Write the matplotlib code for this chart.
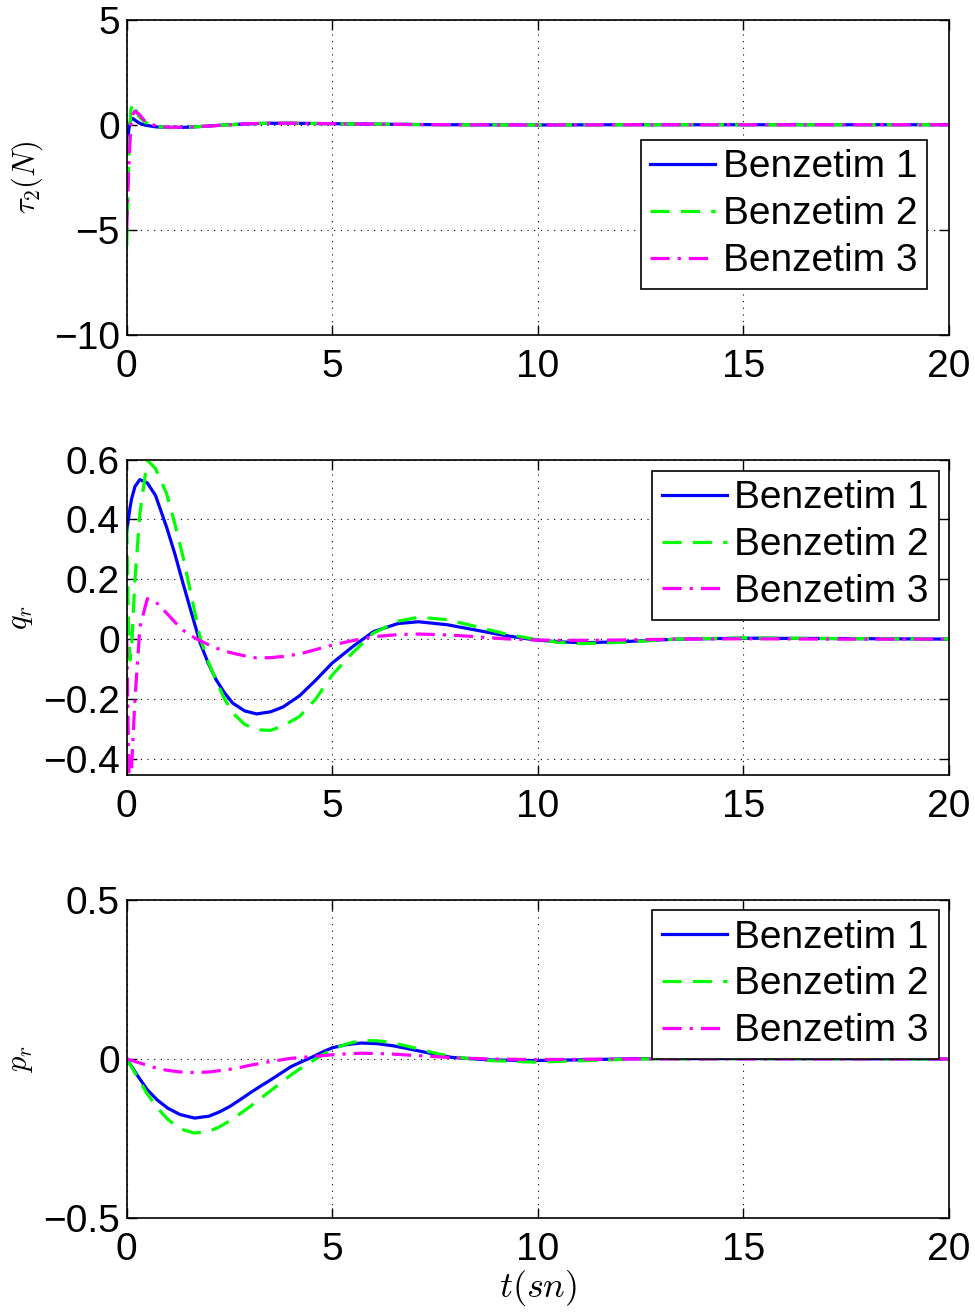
import matplotlib
matplotlib.use("Agg")
import matplotlib.pyplot as plt

plt.rcParams['font.family'] = ['Liberation Sans', 'DejaVu Sans']
plt.rcParams['mathtext.fontset'] = 'cm'

labels = ["Benzetim 1", "Benzetim 2", "Benzetim 3"]

# tau_2 (N)
t_tau = [0, 0.05, 0.1, 0.15, 0.2, 0.3, 0.45, 0.7, 1.0, 1.5, 2.0, 2.5, 3.0, 3.5,
         4.0, 5.0, 6.0, 7.0, 8.0, 10.0, 12.0, 15.0, 20.0]
tau_b1 = [-1.4, -0.2, 0.25, 0.29, 0.22, 0.08, -0.02, -0.1, -0.13, -0.12, -0.06,
          0.0, 0.05, 0.07, 0.07, 0.05, 0.03, 0.01, 0.0, -0.01, 0.0, 0.0, 0.0]
tau_b2 = [-5.8, -1.5, 0.7, 1.05, 0.8, 0.38, 0.12, -0.08, -0.13, -0.12, -0.06,
          0.0, 0.05, 0.07, 0.07, 0.05, 0.03, 0.01, 0.0, -0.01, 0.0, 0.0, 0.0]
tau_b3 = [-5.0, -2.0, 0.0, 0.5, 0.65, 0.5, 0.15, -0.05, -0.12, -0.12, -0.06,
          0.0, 0.05, 0.07, 0.07, 0.05, 0.03, 0.01, 0.0, -0.01, 0.0, 0.0, 0.0]

# q_r
t_q = [0, 0.04, 0.08, 0.12, 0.2, 0.32, 0.5, 0.7, 0.97, 1.17, 1.37, 1.58, 1.78,
       1.98, 2.18, 2.38, 2.58, 2.87, 3.16, 3.5, 3.8, 4.2, 4.6, 5.0, 5.5, 6.0,
       6.6, 7.1, 7.8, 8.5, 9.2, 9.9, 10.5, 11.1, 12.0, 13.4, 15.0, 17.0, 20.0]
q_b1 = [0.36, 0.4, 0.44, 0.47, 0.51, 0.533, 0.522, 0.48, 0.374, 0.285, 0.186,
        0.085, -0.01, -0.08, -0.137, -0.18, -0.214, -0.24, -0.25, -0.243,
        -0.227, -0.19, -0.137, -0.08, -0.025, 0.025, 0.052, 0.058, 0.048, 0.03,
        0.012, -0.002, -0.009, -0.012, -0.009, 0.0, 0.003, 0.002, 0.0]
q_b2 = [0.38, 0.05, -0.07, -0.02, 0.2, 0.42, 0.598, 0.57, 0.486, 0.385, 0.274,
        0.14, 0.008, -0.075, -0.14, -0.2, -0.247, -0.285, -0.303, -0.305,
        -0.29, -0.259, -0.2, -0.12, -0.045, 0.02, 0.06, 0.073, 0.065, 0.042,
        0.018, 0.0, -0.011, -0.015, -0.011, 0.0, 0.004, 0.002, 0.0]
q_b3 = [0.0, -0.35, -0.6, -0.42, -0.2, 0.04, 0.135, 0.125, 0.087, 0.057, 0.03,
        0.01, -0.005, -0.018, -0.03, -0.04, -0.047, -0.056, -0.063, -0.062,
        -0.058, -0.05, -0.035, -0.02, -0.005, 0.008, 0.015, 0.017, 0.014, 0.008,
        0.001, -0.003, -0.004, -0.004, -0.003, 0.0, 0.001, 0.0, 0.0]

# p_r
t_p = [0, 0.25, 0.5, 0.75, 1.0, 1.3, 1.65, 2.0, 2.25, 2.5, 2.75, 3.0, 3.25, 3.5,
       3.75, 4.0, 4.25, 4.5, 4.75, 5.0, 5.35, 5.7, 6.1, 6.5, 7.0, 7.45, 7.9,
       8.8, 9.9, 11.0, 12.5, 15.0, 20.0]
p_b1 = [0, -0.05, -0.097, -0.13, -0.155, -0.175, -0.186, -0.18, -0.167, -0.15,
        -0.129, -0.107, -0.086, -0.066, -0.045, -0.024, -0.009, 0.005, 0.021,
        0.035, 0.045, 0.05, 0.048, 0.041, 0.028, 0.016, 0.005, -0.003, -0.005,
        -0.003, 0.001, 0.001, 0]
p_b2 = [0, -0.055, -0.11, -0.155, -0.19, -0.22, -0.233, -0.228, -0.214, -0.195,
        -0.173, -0.15, -0.125, -0.1, -0.075, -0.05, -0.028, -0.008, 0.012, 0.03,
        0.047, 0.058, 0.057, 0.05, 0.035, 0.02, 0.007, -0.005, -0.01, -0.006,
        0.0, 0.001, 0]
p_b3 = [0, -0.01, -0.02, -0.03, -0.036, -0.041, -0.043, -0.041, -0.037, -0.033,
        -0.027, -0.02, -0.014, -0.008, -0.003, 0.002, 0.005, 0.007, 0.01, 0.013,
        0.016, 0.018, 0.017, 0.015, 0.011, 0.008, 0.004, 0.0, -0.002, -0.001,
        0, 0, 0]

panels = [
    (t_tau, [tau_b1, tau_b2, tau_b3], r'$\tau_2(N)$', (-10, 5), [-10, -5, 0, 5],
     [0.130, 0.745, 0.843, 0.240], (0.974, 0.619)),
    (t_q, [q_b1, q_b2, q_b3], r'$q_r$', (-0.453, 0.6), [-0.4, -0.2, 0, 0.2, 0.4, 0.6],
     [0.130, 0.410, 0.843, 0.240], (0.988, 0.965)),
    (t_p, [p_b1, p_b2, p_b3], r'$p_r$', (-0.5, 0.5), [-0.5, 0, 0.5],
     [0.130, 0.0724, 0.843, 0.2422], (0.988, 0.969)),
]

styles = [
    dict(color=(0, 0, 1), linestyle='-'),
    dict(color=(0, 1, 0), linestyle=(0, (6, 3.5))),
    dict(color=(1, 0, 1), linestyle=(0, (6, 2.5, 1, 2.5))),
]

fig = plt.figure(figsize=(9.75, 13.13), dpi=100)

for t, series, ylab, ylim, yticks, rect, anchor in panels:
    ax = fig.add_axes(rect)
    for y, st, lab in zip(series, styles, labels):
        ax.plot(t, y, linewidth=2.3, label=lab, **st)
    ax.set_xlim(0, 20)
    ax.set_ylim(*ylim)
    ax.set_xticks([0, 5, 10, 15, 20])
    ax.set_yticks(yticks)
    ax.set_yticklabels([f"{v:g}".replace('-', '\u2212') for v in yticks])
    ax.grid(True, color='black', linestyle=(0, (1, 5)), linewidth=0.8)
    ax.tick_params(direction='in', top=True, right=True, length=7, width=1,
                   labelsize=28)
    ax.tick_params(axis='x', pad=10)
    ax.tick_params(axis='y', pad=5)
    for sp in ax.spines.values():
        sp.set_linewidth(1.2)
    ax.set_ylabel(ylab, fontsize=22, labelpad=6)
    leg = ax.legend(loc='upper right', bbox_to_anchor=anchor, borderaxespad=0,
                    fontsize=28, frameon=True, fancybox=False, framealpha=1,
                    edgecolor='black', handlelength=1.67, handletextpad=0.2,
                    labelspacing=0.28, borderpad=0.25)
    leg.get_frame().set_linewidth(1.2)

ax.set_xlabel(r'$t(sn)$', fontsize=26, labelpad=0)

fig.savefig("out.png", dpi=100)
